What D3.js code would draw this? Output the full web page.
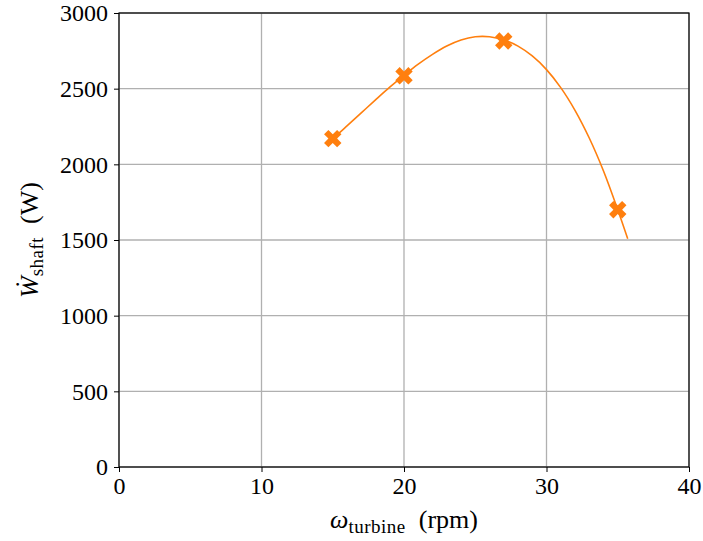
<!DOCTYPE html>
<html>
<head>
<meta charset="utf-8">
<script src="https://cdn.jsdelivr.net/npm/d3@7"></script>
<style>
  body { margin: 0; background: #fff; }
  text { font-family: "Liberation Serif", "DejaVu Serif", serif; fill: #000; }
</style>
</head>
<body>
<div id="chart"></div>
<script>
const width = 703;
const height = 541;

const margin = { top: 13, right: 14, bottom: 74, left: 119 };

// measured points
const speedRpm = [15, 20, 27, 35];
const shaftPower = [2170, 2585, 2815, 1700];

// fitted curve
const fitRpm = [15, 15.5, 16, 17, 18, 19, 20, 21, 22, 23, 24, 25, 26, 27, 28, 29, 30, 31, 32, 33, 34, 35, 35.7];
const fitPower = [2170, 2211, 2254, 2340, 2426, 2510, 2588, 2662, 2727, 2782, 2822, 2843, 2843, 2822, 2781, 2716, 2626, 2507, 2357, 2174, 1956, 1700, 1508];

const xTicks = [0, 10, 20, 30, 40];
const yTicks = [0, 500, 1000, 1500, 2000, 2500, 3000];

const orange = "#ff7f0e";
const fontStack = '"Liberation Serif", "DejaVu Serif", serif';

const svg = d3.select("#chart").append("svg")
   .attr("width", width)
   .attr("height", height);

const x = d3.scaleLinear()
   .domain([0, 40])
   .range([margin.left, width - margin.right]);

const y = d3.scaleLinear()
   .domain([0, 3000])
   .range([height - margin.bottom, margin.top]);

// grid
svg.append("g")
   .selectAll("line")
   .data(xTicks)
   .join("line")
   .attr("x1", d => x(d)).attr("x2", d => x(d))
   .attr("y1", y(0)).attr("y2", y(3000))
   .attr("stroke", "#b0b0b0")
   .attr("stroke-width", 1.3);

svg.append("g")
   .selectAll("line")
   .data(yTicks)
   .join("line")
   .attr("x1", x(0)).attr("x2", x(40))
   .attr("y1", d => y(d)).attr("y2", d => y(d))
   .attr("stroke", "#b0b0b0")
   .attr("stroke-width", 1.3);

// axes
const xAxis = svg.append("g")
   .attr("transform", `translate(0,${y(0)})`)
   .call(d3.axisBottom(x).tickValues(xTicks).tickFormat(d3.format("d")).tickSize(5).tickPadding(5));

const yAxis = svg.append("g")
   .attr("transform", `translate(${x(0)},0)`)
   .call(d3.axisLeft(y).tickValues(yTicks).tickFormat(d3.format("d")).tickSize(5).tickPadding(6));

[xAxis, yAxis].forEach(a => {
   a.select(".domain").remove();
   a.selectAll("line").attr("stroke", "#000").attr("stroke-width", 1);
   a.selectAll("text")
      .style("font-size", "24px")
      .style("font-family", fontStack);
});

// frame
svg.append("rect")
   .attr("x", x(0)).attr("y", y(3000))
   .attr("width", x(40) - x(0)).attr("height", y(0) - y(3000))
   .attr("fill", "none")
   .attr("stroke", "#000")
   .attr("stroke-width", 1.2);

// fit curve
const line = d3.line()
   .x((d, i) => x(fitRpm[i]))
   .y(d => y(d))
   .curve(d3.curveCatmullRom);

svg.append("path")
   .datum(fitPower)
   .attr("d", line)
   .attr("fill", "none")
   .attr("stroke", orange)
   .attr("stroke-width", 1.6);

// markers
svg.append("g")
   .selectAll("path")
   .data(speedRpm)
   .join("path")
   .attr("d", d3.symbol(d3.symbolCross, 190))
   .attr("transform", (d, i) => `translate(${x(d)},${y(shaftPower[i])}) rotate(45)`)
   .attr("fill", orange);

// x label
const xl = svg.append("text")
   .attr("x", (x(0) + x(40)) / 2)
   .attr("y", 528)
   .attr("text-anchor", "middle")
   .style("font-size", "26px");
xl.append("tspan").style("font-style", "italic").text("ω");
xl.append("tspan").attr("dy", 5).style("font-size", "19px").style("letter-spacing", "0.5px").text("turbine");
xl.append("tspan").attr("dy", -5).text("\u2002(rpm)");

// y label
const yl = svg.append("text")
   .attr("transform", `translate(38,${(y(0) + y(3000)) / 2}) rotate(-90)`)
   .attr("text-anchor", "middle")
   .style("font-size", "26px");
yl.append("tspan").style("font-style", "italic").text("W\u0307");
yl.append("tspan").attr("dy", 5).style("font-size", "19px").style("letter-spacing", "0.5px").text("shaft");
yl.append("tspan").attr("dy", -5).text("\u2002(W)");
</script>
</body>
</html>
